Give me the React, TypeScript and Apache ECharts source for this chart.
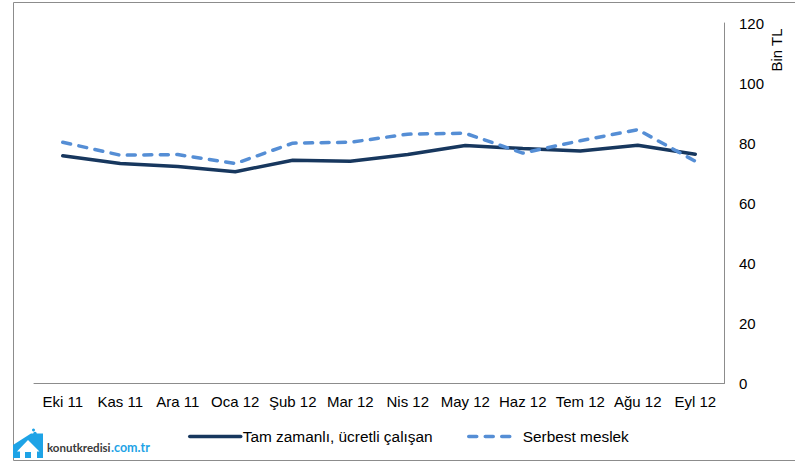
import React, { useEffect, useRef } from "react";
import * as echarts from "echarts";

const categories = ["Eki 11", "Kas 11", "Ara 11", "Oca 12", "Şub 12", "Mar 12", "Nis 12", "May 12", "Haz 12", "Tem 12", "Ağu 12", "Eyl 12"];
const fullTime = [75.8, 73.2, 72.2, 70.5, 74.3, 74, 76.2, 79.2, 78.2, 77.4, 79.3, 76.3];
const selfEmployed = [80.3, 76, 76.2, 73.2, 80, 80.3, 83, 83.3, 76.7, 80.8, 84.5, 74];
const yTicks = { min: 0, max: 120, interval: 20 };
const seriesNames = ["Tam zamanlı, ücretli çalışan", "Serbest meslek"];
const FONT = '"Liberation Sans", Arial, sans-serif';
const BLUE = "#1ea3e6";

export default function App() {
  const ref = useRef<HTMLDivElement>(null);
  useEffect(() => {
    document.body.style.margin = "0";
    const chart = echarts.init(ref.current!, undefined, { renderer: "svg" });
    const legendBase = {
      top: 429,
      padding: 0,
      itemHeight: 4,
      itemStyle: { opacity: 0 },
      lineStyle: { width: 3.5 },
    };
    chart.setOption({
      animation: false,
      backgroundColor: "#ffffff",
      textStyle: { fontFamily: FONT },
      grid: { left: 34, right: 71, top: 23, bottom: 79.5, containLabel: false },
      xAxis: {
        type: "category",
        data: categories,
        boundaryGap: true,
        axisLine: { lineStyle: { color: "#8c8c8c", width: 1 } },
        axisTick: { show: false },
        axisLabel: { color: "#000", fontSize: 15, fontFamily: FONT, margin: 10, interval: 0 },
      },
      yAxis: {
        type: "value",
        position: "right",
        min: yTicks.min,
        max: yTicks.max,
        interval: yTicks.interval,
        splitLine: { show: false },
        axisLine: { show: true, lineStyle: { color: "#8c8c8c", width: 1 } },
        axisTick: { show: false },
        axisLabel: { color: "#000", fontSize: 15, fontFamily: FONT, margin: 15, padding: [0, 0, 2, 0] },
      },
      legend: [
        {
          ...legendBase,
          left: 188,
          itemWidth: 51,
          textStyle: { color: "#000", fontSize: 15.4, fontFamily: FONT, padding: [0, 0, 0, -3] },
          data: [seriesNames[0]],
        },
        {
          ...legendBase,
          left: 467,
          itemWidth: 46,
          textStyle: { color: "#000", fontSize: 15.4, fontFamily: FONT, padding: [0, 0, 0, 3] },
          data: [seriesNames[1]],
        },
      ],
      series: [
        {
          name: seriesNames[0],
          type: "line",
          data: fullTime,
          symbol: "none",
          lineStyle: { color: "#17375e", width: 3.5, cap: "round" },
          itemStyle: { color: "#17375e" },
        },
        {
          name: seriesNames[1],
          type: "line",
          data: selfEmployed,
          symbol: "none",
          lineStyle: { color: "#558ed5", width: 3.5, type: [8, 8.5], cap: "round" },
          itemStyle: { color: "#558ed5" },
        },
      ],
      graphic: [
        {
          type: "rect",
          silent: true,
          z: -1,
          shape: { x: 13.5, y: 2.5, width: 800, height: 458 },
          style: { fill: "none", stroke: "#8c8c8c", lineWidth: 1 },
        },
        {
          type: "text",
          x: 776,
          y: 50,
          rotation: Math.PI / 2,
          style: { text: "Bin TL", fill: "#000", fontFamily: "Liberation Sans", fontSize: 15, align: "center", verticalAlign: "middle" },
        },
        {
          type: "polygon",
          shape: { points: [[13, 445], [31, 433.5], [43, 433.5], [43, 458], [13, 458]] },
          style: { fill: BLUE },
        },
        {
          type: "polygon",
          shape: { points: [[28, 440], [17, 451.5], [20, 451.5], [20, 458], [25, 458], [25, 452], [31, 452], [31, 458], [37, 458], [37, 451.5], [39.5, 451.5]] },
          style: { fill: "#fff" },
        },
        { type: "circle", shape: { cx: 33.5, cy: 430, r: 1.5 }, style: { fill: BLUE } },
        { type: "circle", shape: { cx: 35, cy: 433.5, r: 1.8 }, style: { fill: BLUE } },
        {
          type: "text",
          x: 47,
          y: 447,
          style: { text: "konutkredisi", fill: "#3a3a3a", verticalAlign: "middle", fontFamily: "Lato", fontWeight: "bold", fontSize: 11.5 },
        },
        {
          type: "text",
          x: 111,
          y: 447,
          style: { text: ".com.tr", fill: BLUE, verticalAlign: "middle", fontFamily: "Lato", fontWeight: "bold", fontSize: 12.5 },
        },
      ],
    });
    return () => chart.dispose();
  }, []);
  return <div ref={ref} style={{ width: 795, height: 463 }} />;
}
